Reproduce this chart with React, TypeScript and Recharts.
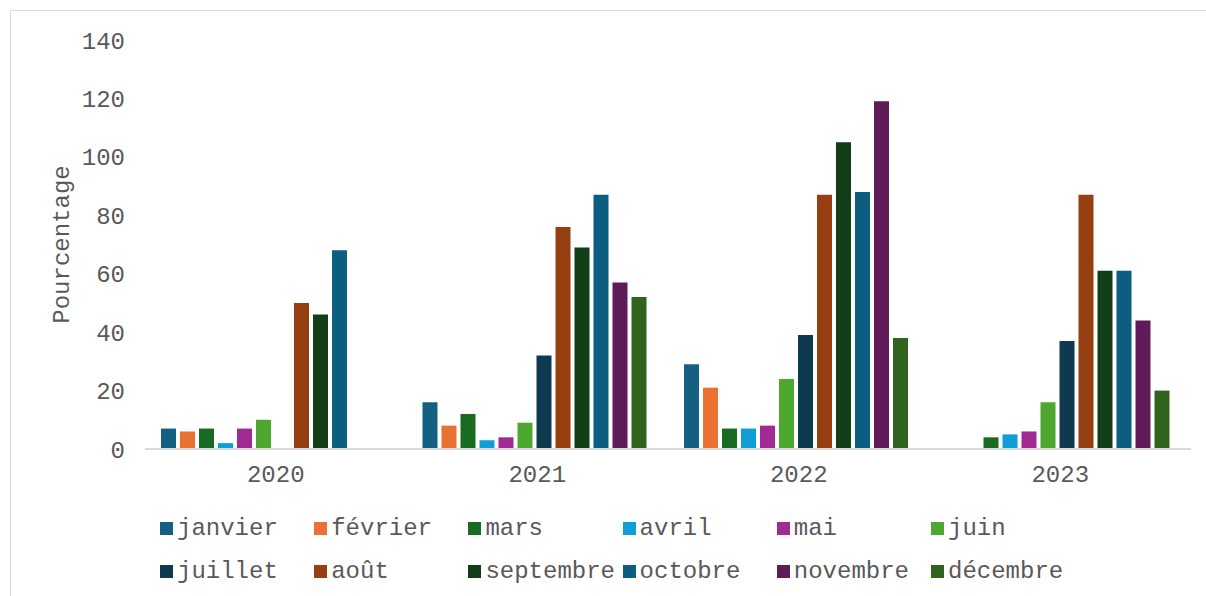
import React from "react";
import { BarChart, Bar, XAxis, YAxis } from "recharts";

// Years shown on the category axis
const years = ["2020", "2021", "2022", "2023"];

// Monthly percentages per year (null = no value that year)
const janvier = [7, 16, 29, null];
const fevrier = [6, 8, 21, null];
const mars = [7, 12, 7, 4];
const avril = [2, 3, 7, 5];
const mai = [7, 4, 8, 6];
const juin = [10, 9, 24, 16];
const juillet = [null, 32, 39, 37];
const aout = [50, 76, 87, 87];
const septembre = [46, 69, 105, 61];
const octobre = [68, 87, 88, 61];
const novembre = [null, 57, 119, 44];
const decembre = [null, 52, 38, 20];

const monthNames = [
  "janvier", "février", "mars", "avril", "mai", "juin",
  "juillet", "août", "septembre", "octobre", "novembre", "décembre",
];
const monthValues = [
  janvier, fevrier, mars, avril, mai, juin,
  juillet, aout, septembre, octobre, novembre, decembre,
];
const monthColors = [
  "#156082", "#E97132", "#196B24", "#0F9ED5", "#A02B93", "#4EA72E",
  "#0E3A50", "#963F11", "#113E17", "#0B5E80", "#5F1B58", "#30631E",
];

const yTicks = [0, 20, 40, 60, 80, 100, 120, 140];

const data = years.map((year, i) => {
  const row: Record<string, string | number | null> = { year };
  monthNames.forEach((m, k) => {
    row[m] = monthValues[k][i];
  });
  return row;
});

const FONT = "'Courier New', 'Liberation Mono', monospace";
const TEXT = "#595959";

const AxisTitle = (props: any) => {
  const { viewBox } = props;
  const cx = viewBox.x + 62;
  const cy = viewBox.y + viewBox.height / 2;
  return (
    <text
      x={cx}
      y={cy}
      transform={`rotate(-90 ${cx} ${cy})`}
      textAnchor="middle"
      dominantBaseline="central"
      fill={TEXT}
      fontFamily={FONT}
      fontSize={24}
    >
      Pourcentage
    </text>
  );
};

export default function App() {
  return (
    <div
      style={{
        position: "absolute",
        left: 0,
        top: 0,
        width: 1206,
        height: 596,
        overflow: "hidden",
        background: "#fff",
      }}
    >
      <div
        style={{
          position: "absolute",
          left: 10,
          top: 10,
          width: 1200,
          height: 600,
          borderTop: "1px solid #D9D9D9",
          borderLeft: "1px solid #D9D9D9",
        }}
      />
      <div style={{ position: "absolute", left: 0, top: 0 }}>
        <BarChart
          width={1206}
          height={596}
          data={data}
          margin={{ top: 40, right: 15, left: 0, bottom: 0 }}
          barCategoryGap={16}
          barGap={4}
        >
          <XAxis
            dataKey="year"
            height={147}
            axisLine={{ stroke: "#D9D9D9", strokeWidth: 2 }}
            tickLine={false}
            tickSize={0}
            tickMargin={16}
            tick={{ fill: TEXT, fontFamily: FONT, fontSize: 24 }}
          />
          <YAxis
            width={145}
            domain={[0, 140]}
            ticks={yTicks}
            axisLine={false}
            tickLine={false}
            tickSize={0}
            tickMargin={20}
            tick={{ fill: TEXT, fontFamily: FONT, fontSize: 24 }}
            label={<AxisTitle />}
          />
          {monthNames.map((m, k) => (
            <Bar
              key={m}
              dataKey={m}
              fill={monthColors[k]}
              isAnimationActive={false}
            />
          ))}
        </BarChart>
      </div>
      {monthNames.map((m, k) => {
        const col = k % 6;
        const row = Math.floor(k / 6);
        const left = 160 + col * 154.2;
        const top = 522 + row * 43;
        return (
          <div
            key={m}
            style={{
              position: "absolute",
              left,
              top,
              display: "flex",
              alignItems: "center",
              height: 13,
              whiteSpace: "nowrap",
            }}
          >
            <div
              style={{
                width: 13,
                height: 13,
                background: monthColors[k],
                marginRight: 4,
              }}
            />
            <span
              style={{
                fontFamily: FONT,
                fontSize: 24,
                color: TEXT,
                lineHeight: "13px",
              }}
            >
              {m}
            </span>
          </div>
        );
      })}
    </div>
  );
}
